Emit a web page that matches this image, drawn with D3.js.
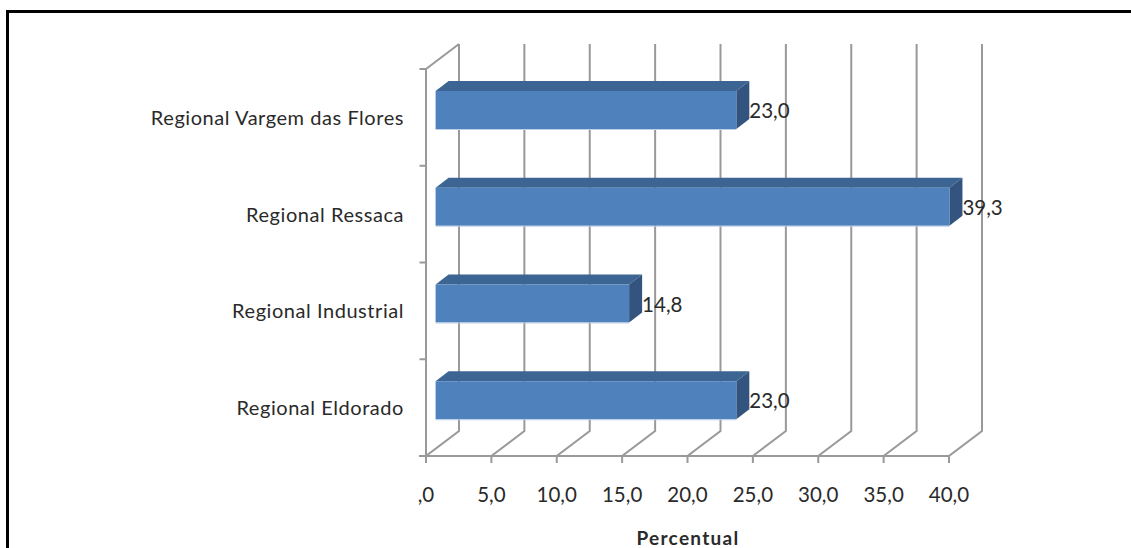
<!DOCTYPE html>
<html><head><meta charset="utf-8">
<script src="https://cdn.jsdelivr.net/npm/d3@7/dist/d3.min.js"></script>
<style>html,body{margin:0;padding:0;background:#fff}svg{display:block}text{font-family:"Lato",sans-serif;fill:#2a2a2a}</style>
</head><body><svg id="c" width="1131" height="548"></svg>
<script>
const categories = ["Regional Eldorado","Regional Industrial","Regional Ressaca","Regional Vargem das Flores"];
const values = [23.0,14.8,39.3,23.0];
const ticks = [0,5,10,15,20,25,30,35,40];
const tickLabels = [",0","5,0","10,0","15,0","20,0","25,0","30,0","35,0","40,0"];
const axisTitle = "Percentual";

const svg = d3.select("#c");
const x = d3.scaleLinear().domain([0,40]).range([426,949]);
const y = d3.scaleBand().domain(categories).range([456,69]);
const dx = 33, dy = 25, gray = "#999";
const barInset = 9.6, barDx = 13, barDy = 10;
const barTop = 22, barH = 38;
const fmt = v => v.toFixed(1).replace(".",",");

svg.append("path").attr("d","M7.5,548V11.5H1131").attr("fill","none").attr("stroke","#000").attr("stroke-width",3);

const grid = svg.append("g").attr("fill","none").attr("stroke",gray).attr("stroke-width",2);
ticks.forEach(t=>{
  grid.append("path").attr("d",`M${x(t)},463V456L${x(t)+dx},${456-dy}V${69-dy}`);
});
grid.append("path").attr("d",`M${x(0)},69L${x(0)+dx},${69-dy}`);
grid.append("path").attr("d",`M419,456H${x(40)}`);
grid.append("path").attr("d",`M${x(0)},456V69`);
categories.forEach(c=>{
  grid.append("path").attr("d",`M419.5,${y(c)}H${x(0)}`);
});

const bars = svg.append("g").selectAll("g").data(categories).join("g");
bars.each(function(c,i){
  const g = d3.select(this);
  const x0 = x(0)+barInset, x1 = x(values[i])+barInset, t = y(c)+barTop, b = t+barH;
  g.append("path").attr("fill","#3c6594").attr("d",`M${x0},${t}L${x0+barDx},${t-barDy}H${x1+barDx}L${x1},${t}Z`);
  g.append("path").attr("fill","#32547f").attr("d",`M${x1},${t}L${x1+barDx},${t-barDy}V${b-barDy}L${x1},${b}Z`);
  g.append("rect").attr("fill","#4f81bd").attr("x",x0).attr("y",t).attr("width",x1-x0).attr("height",barH);
  g.append("rect").attr("fill","#bcd0e8").attr("x",x0).attr("y",b).attr("width",x1-x0).attr("height",1);
  g.append("text").attr("x",x1+barDx).attr("y",t+barH/2+8).attr("font-size",20.5).text(fmt(values[i]));
});

svg.append("g").selectAll("text").data(categories).join("text")
  .attr("x",404).attr("y",c=>y(c)+y.bandwidth()/2+7.5).attr("text-anchor","end").attr("font-size",20).attr("letter-spacing",0.55).text(c=>c);

svg.append("g").selectAll("text").data(ticks).join("text")
  .attr("x",t=>x(t)).attr("y",502).attr("text-anchor","middle").attr("font-size",20.5).text((t,i)=>tickLabels[i]);

svg.append("text").attr("x",688).attr("y",545).attr("text-anchor","middle").attr("font-size",19).attr("letter-spacing",1.3).attr("font-weight",700).text(axisTitle);
</script></body></html>
